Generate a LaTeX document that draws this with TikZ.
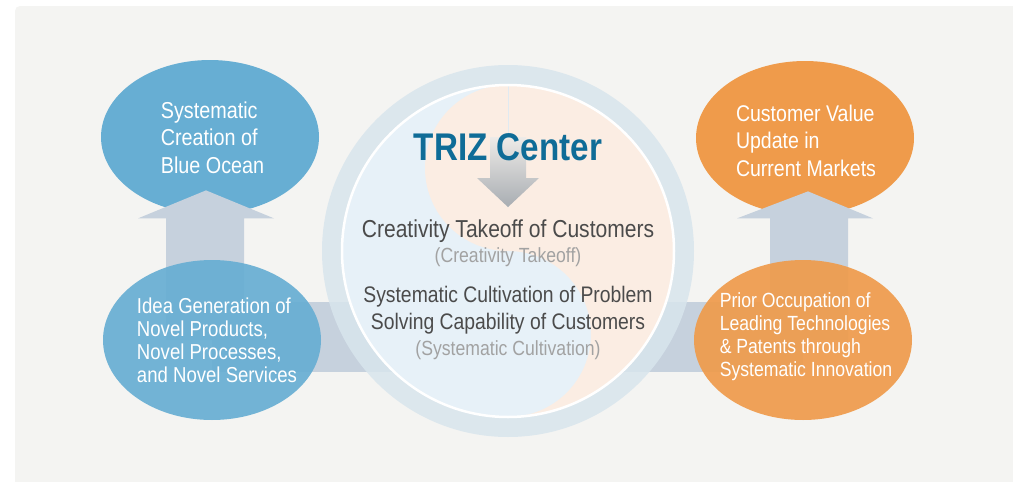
\documentclass[tikz,border=0pt]{standalone}
\usepackage{fontspec}
\setmainfont{Liberation Sans}[FakeStretch=0.86]
\usetikzlibrary{shapes.geometric,calc}

\definecolor{pagegray}{HTML}{F4F4F2}
\definecolor{oceanblue}{HTML}{67AED3}
\definecolor{marketorange}{HTML}{EF9B4B}
\definecolor{flowgray}{HTML}{C6D1DD}
\definecolor{ringblue}{HTML}{D8E5ED}
\definecolor{yinblue}{HTML}{E7F1F8}
\definecolor{yangpeach}{HTML}{FBEDE3}
\definecolor{trizblue}{HTML}{0F6C97}
\definecolor{bodygray}{HTML}{4B4B4B}
\definecolor{subgray}{HTML}{A2A2A2}
\definecolor{droptop}{HTML}{EEEBE8}
\definecolor{dropbottom}{HTML}{A8ADB2}

\pgfdeclarelayer{front}
\pgfdeclarelayer{label}
\pgfsetlayers{main,front,label}

\tikzset{every picture/.style={line width=0.75pt}}

\begin{document}
\begin{tikzpicture}[x=1pt,y=-1pt,
    bubble/.style={ellipse,minimum width=218pt,minimum height=154pt,inner sep=0pt},
    bubbletext/.style={text=white,align=left,inner sep=0pt},
    flow/.style={fill=flowgray},
    hubline/.style={anchor=base,inner sep=0pt,text=bodygray}]
  \useasboundingbox (0,0) rectangle (1013,482);
  \fill[white] (0,0) rectangle (1013,482);
  \fill[pagegray] (15,482) [rounded corners=5pt]-- (15,6) [sharp corners]-- (1013,6) -- (1013,482) -- cycle;

  % goals on top
  \node[bubble,fill=oceanblue] (ocean) at (210,137) {};
  \node[bubble,fill=marketorange] (value) at (805,138) {};
  \node[bubbletext,font=\fontsize{23}{27.5}\selectfont] (oceantext) at ($(ocean.center)+(2.5,0.5)$) {Systematic\\Creation of\\Blue Ocean};
  \node[bubbletext,font=\fontsize{22.7}{27.5}\selectfont] (valuetext) at ($(value.center)+(1,2.5)$) {Customer Value\\Update in\\Current Markets};

  \begin{pgfonlayer}{front}
    \node[bubble,minimum height=160pt,fill=oceanblue,fill opacity=0.92] (idea) at (212,340) {};
    \node[bubble,minimum height=160pt,fill=marketorange,fill opacity=0.92] (prior) at (803,340) {};
    \node[circle,minimum size=372pt,inner sep=0pt,fill=ringblue,fill opacity=0.85] (hub) at (508,251) {};
    % yin and yang
    \fill[yinblue] (hub.center) circle[radius=166];
    \fill[yangpeach] ($(hub.center)+(0,-166)$) arc[start angle=-90,end angle=90,radius=166]
      arc[start angle=90,end angle=-90,radius=83] arc[start angle=90,end angle=270,radius=83] -- cycle;
    \draw[ringblue!80!white,line width=0.8pt] ($(hub.center)+(0,-166)$) -- ($(hub.center)+(0,-44)$);
    \draw[white,line width=2.5pt] (hub.center) circle[radius=166];
  \end{pgfonlayer}

  \begin{pgfonlayer}{label}
    \node[bubbletext,font=\fontsize{21.6}{23}\selectfont] (ideatext) at ($(idea.center)+(5,0.5)$) {Idea Generation of\\Novel Products,\\Novel Processes,\\and Novel Services};
    \node[bubbletext,font=\fontsize{20.5}{23}\selectfont] (priortext) at ($(prior.center)+(3,-3)$) {Prior Occupation of\\Leading Technologies\\\& Patents through\\Systematic Innovation};
    \node[hubline,text=trizblue,font=\bfseries\fontsize{38.6}{40}\selectfont] (triz) at (508,160) {TRIZ Center};
    \node[hubline,font=\fontsize{24.5}{28}\selectfont] (take) at (508,237) {Creativity Takeoff of Customers};
    \node[hubline,text=subgray,font=\fontsize{20.5}{24}\selectfont] (takenote) at (508,262) {(Creativity Takeoff)};
    \node[hubline,font=\fontsize{22.5}{26}\selectfont] (cultivate) at (508,302) {Systematic Cultivation of Problem};
    \node[hubline,font=\fontsize{22.5}{26}\selectfont] (solving) at (508,329) {Solving Capability of Customers};
    \node[hubline,text=subgray,font=\fontsize{20.5}{24}\selectfont] (cultnote) at (508,355) {(Systematic Cultivation)};
  \end{pgfonlayer}

  \begin{pgfonlayer}{front}
    \shade[top color=droptop,bottom color=dropbottom] ($(triz.base)+(-18,-23)$) -- ($(triz.base)+(18,-23)$)
      -- ($(triz.base)+(18,18)$) -- ($(triz.base)+(31,18)$) -- ($(take.north)+(0,-12)$)
      -- ($(triz.base)+(-31,18)$) -- ($(triz.base)+(-18,18)$) -- cycle;
  \end{pgfonlayer}

  % flows from the hub
  \fill[flow] ($(idea.center)+(0,-38)$) rectangle ($(hub.center)+(0,121)$);
  \fill[flow] ($(hub.center)+(0,51)$) rectangle ($(prior.center)+(0,32)$);
  \fill[flow] ($(idea.center)+(-46,0)$) -- ($(ocean.south)+(-44,4)$) -- ($(ocean.south)+(-72,4)$)
    -- ($(ocean.south)+(-4,-24)$) -- ($(ocean.south)+(64,4)$) -- ($(ocean.south)+(34,4)$)
    -- ($(idea.center)+(32,0)$) -- cycle;
  \fill[flow] ($(prior.center)+(-33,0)$) -- ($(value.south)+(-35,3)$) -- ($(value.south)+(-68,3)$)
    -- ($(value.south)+(3,-24)$) -- ($(value.south)+(68,3)$) -- ($(value.south)+(43,3)$)
    -- ($(prior.center)+(45,0)$) -- cycle;
\end{tikzpicture}
\end{document}
